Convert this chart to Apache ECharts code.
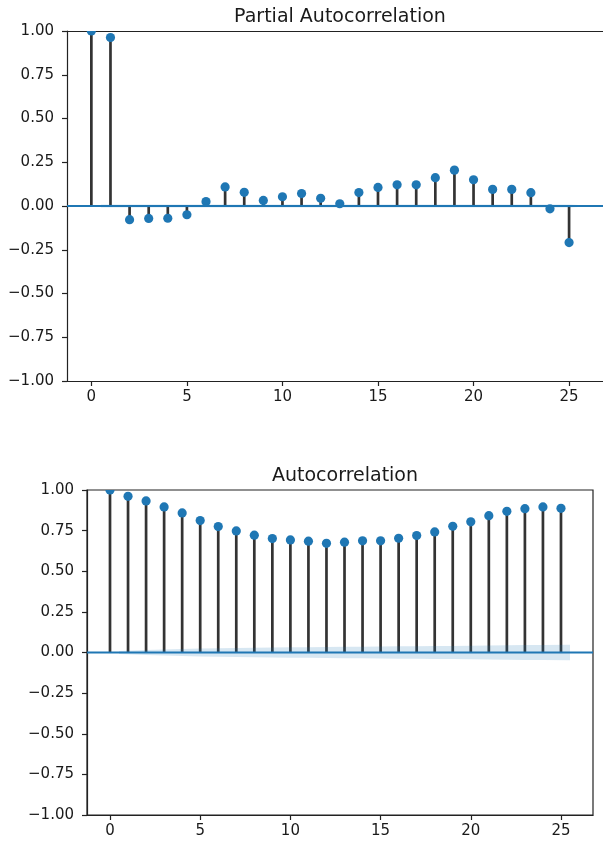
<!DOCTYPE html>
<html><head><meta charset="utf-8">
<script src="https://cdn.jsdelivr.net/npm/echarts@6/dist/echarts.min.js"></script>
<style>html,body{margin:0;padding:0;background:#fff}#c{width:603px;height:843px}</style>
</head><body><div id="c"></div>
<script>
// ---- data ----
const lags = [0,1,2,3,4,5,6,7,8,9,10,11,12,13,14,15,16,17,18,19,20,21,22,23,24,25];
const pacfValues = [1.0,0.963,-0.078,-0.071,-0.070,-0.050,0.025,0.109,0.078,0.032,0.053,0.071,0.044,0.013,0.077,0.106,0.121,0.121,0.162,0.205,0.150,0.095,0.095,0.076,-0.016,-0.209];
const acfValues = [1.0,0.961,0.933,0.896,0.859,0.812,0.775,0.748,0.722,0.701,0.693,0.685,0.672,0.679,0.687,0.687,0.703,0.720,0.742,0.777,0.804,0.842,0.869,0.885,0.896,0.887];
// confidence band half widths for lags 1..25 (estimated)
const pacfBandHalf = [0.0085,0.0085,0.0085,0.0085,0.0085,0.0085,0.0085,0.0085,0.0085,0.0085,0.0085,0.0085,0.0085,0.0085,0.0085,0.0085,0.0085,0.0085,0.0085,0.0085,0.0085,0.0085,0.0085,0.0085,0.0085];
const acfBandHalf = [0.0086,0.0147,0.0185,0.0216,0.024,0.026,0.0277,0.0292,0.0305,0.0317,0.0328,0.0339,0.0349,0.0359,0.0368,0.0378,0.0387,0.0397,0.0407,0.0418,0.0429,0.0441,0.0454,0.0467,0.048];
const xTickValues = [0,5,10,15,20,25];
const yTickValues = [-1,-0.75,-0.5,-0.25,0,0.25,0.5,0.75,1];
const titles = ['Partial Autocorrelation','Autocorrelation'];
const xMin = -1.275, xMax = 26.775;

// ---- styles ----
const C0 = '#1f77b4';
const SPINE = '#222';
const FONT = 'DejaVu Sans';

function bandX(i){ // band x positions: first shifted -0.5, last +0.5
  const x = lags[i+1];
  if (i === 0) return x - 0.5;
  if (i === lags.length - 2) return x + 0.5;
  return x;
}

function xAxis(gi){
  return {
    type:'value', gridIndex:gi, min:xMin, max:xMax,
    axisLine:{show:true, onZero:false, lineStyle:{color:SPINE, width:1.2}},
    axisTick:{show:true, inside:false, length:5, customValues:xTickValues, lineStyle:{color:SPINE, width:1.2}},
    axisLabel:{show:true, customValues:xTickValues, margin:9, fontFamily:FONT, fontSize:15, color:'#1a1a1a', formatter:v=>String(v)},
    splitLine:{show:false}
  };
}
function yAxis(gi){
  return {
    type:'value', gridIndex:gi, min:-1, max:1, interval:0.25,
    axisLine:{show:true, onZero:false, lineStyle:{color:SPINE, width:1.2}},
    axisTick:{show:true, inside:false, length:5, lineStyle:{color:SPINE, width:1.2}},
    axisLabel:{show:true, margin:13, fontFamily:FONT, fontSize:15, color:'#1a1a1a',
      formatter:v=> (v<0?'\u2212':'') + Math.abs(v).toFixed(2)},
    splitLine:{show:false}
  };
}
// top spine only (for the upper chart, whose right spine falls outside the picture)
const topSpineAxis = {
  type:'value', gridIndex:0, position:'top', min:xMin, max:xMax,
  axisLine:{show:true, onZero:false, lineStyle:{color:SPINE, width:1.2}},
  axisTick:{show:false}, axisLabel:{show:false}, splitLine:{show:false}
};

function seriesFor(gi, vals, band){
  const pts = lags.map((l,i)=>[l, vals[i]]);
  const up = band.map((h,i)=>[bandX(i), h]);
  const lo = band.map((h,i)=>[bandX(i), -h]);
  const bandSeries = (d)=>({
    type:'line', xAxisIndex:gi, yAxisIndex:gi, data:d, showSymbol:false, symbol:'none',
    lineStyle:{width:0, opacity:0}, areaStyle:{color:'rgba(31,119,180,0.25)', origin:0}, z:2, silent:true, animation:false
  });
  return [
    {
      type:'custom', xAxisIndex:gi, yAxisIndex:gi, data:pts, clip:true, z:1, silent:true, animation:false,
      renderItem:(params, api)=>{
        const x = api.value(0), y = api.value(1);
        const p0 = api.coord([x,0]), p1 = api.coord([x,y]);
        return {type:'line', shape:{x1:p0[0], y1:p0[1], x2:p1[0], y2:p1[1]}, style:{stroke:'#333', lineWidth:2.7}};
      }
    },
    bandSeries(up), bandSeries(lo),
    {
      type:'line', xAxisIndex:gi, yAxisIndex:gi, data:[[xMin,0],[xMax,0]], showSymbol:false, symbol:'none',
      lineStyle:{color:C0, width:2}, z:3, silent:true, animation:false
    },
    {
      type:'custom', xAxisIndex:gi, yAxisIndex:gi, data:pts, clip:true, z:4, silent:true, animation:false,
      renderItem:(params, api)=>{
        const p = api.coord([api.value(0), api.value(1)]);
        return {type:'circle', shape:{cx:p[0], cy:p[1], r:4.6}, style:{fill:C0}};
      }
    }
  ];
}

const chart = echarts.init(document.getElementById('c'), null, {renderer:'canvas'});
chart.setOption({
  animation:false,
  backgroundColor:'#fff',
  title:[
    {text:titles[0], left:335, top:3, textAlign:'center', textStyle:{fontFamily:FONT, fontSize:19, fontWeight:'normal', color:'#1a1a1a'}},
    {text:titles[1], left:340, top:462, textAlign:'center', textStyle:{fontFamily:FONT, fontSize:19, fontWeight:'normal', color:'#1a1a1a'}}
  ],
  grid:[
    {left:67, top:31, width:537, height:350, show:false},
    {left:87, top:490, width:506, height:325, show:true, borderColor:SPINE, borderWidth:1.2, backgroundColor:'transparent'}
  ],
  xAxis:[xAxis(0), xAxis(1), topSpineAxis],
  yAxis:[yAxis(0), yAxis(1)],
  series:[...seriesFor(0, pacfValues, pacfBandHalf), ...seriesFor(1, acfValues, acfBandHalf)]
});
</script>
</body></html>
